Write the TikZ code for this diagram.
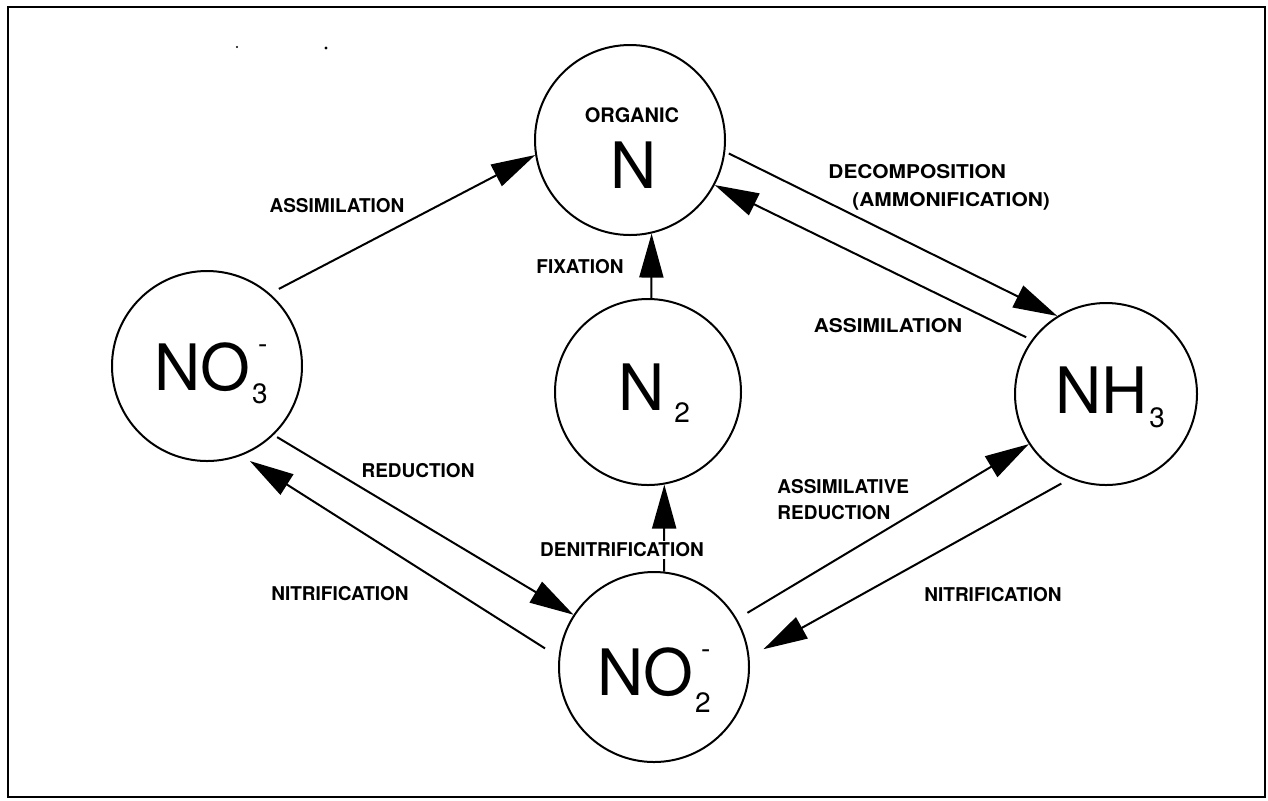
\documentclass[tikz,border=0pt]{standalone}
\usepackage{fontspec}
\setmainfont{TeX Gyre Heros}
\usetikzlibrary{arrows.meta}
\newcommand{\ionsc}[3]{\kern1pt\rlap{\kern3pt\raisebox{#1}{\fontsize{14}{14}\selectfont -}}\raisebox{#2}{\fontsize{14}{14}\selectfont #3}}
\newcommand{\wider}[1]{\scalebox{1.1}[1]{#1}}
\begin{document}
\begin{tikzpicture}[x=0.5pt,y=-0.5pt,
  pool/.style={draw, circle, line width=1pt, minimum size=#1, inner sep=0pt},
  flow/.style={line width=1pt, -{Triangle[length=22pt,width=12pt]}},
  lbl/.style={font=\fontsize{9.5}{13}\selectfont\bfseries, inner sep=1pt},
  big/.style={font=\fontsize{32}{32}\selectfont, inner sep=0pt, anchor=base}]
\useasboundingbox (0,0) rectangle (1268,800);
\draw[line width=1.3pt] (8,7) rectangle (1265,797);
\fill (237,47) circle (0.6pt);
\fill (326,48) circle (0.8pt);
% pools
\node[pool=95pt] (org) at (630,140) {};
\node[pool=93pt] (n2) at (648,392) {};
\node[pool=95pt] (no2) at (654,667) {};
\node[pool=95pt] (no3) at (207,366) {};
\node[pool=91pt] (nh3) at (1106,394) {};
% pool texts
\node[font=\fontsize{10}{10}\selectfont\bfseries, anchor=base, inner sep=0pt] (torg) at (632,122) {ORGANIC};
\node[big] (torgn) at (634,188) {N};
\node[big] (tn2) at (654,410) {N\kern5pt\raisebox{-6pt}{\fontsize{14}{14}\selectfont 2}};
\node[big] (tno3) at (211,390) {NO\ionsc{18.5pt}{-6.5pt}{3}};
\node[big] (tno2) at (654,695) {NO\ionsc{18.5pt}{-8.5pt}{2}};
\node[big] (tnh3) at (1110,413) {NH\kern1pt\raisebox{-7pt}{\fontsize{14}{14}\selectfont 3}};
% flows
\draw[flow, shorten <=5pt] (no3.49) -- (org.189);
\draw[flow, shorten <=2pt] (org.-7.5) -- (nh3.122);
\draw[flow, shorten <=3pt] (nh3.144.5) -- (org.-28.2);
\draw[flow] (n2.88) -- (org.-77);
\draw[flow] (no2.84) -- (n2.-80);
\draw[flow, shorten <=2pt] (no3.-46.2) -- (no2.147.3);
\draw[flow, shorten <=8pt, shorten >=5pt] (no2.174.9) -- (no3.-69.5);
\draw[flow, shorten <=6pt] (no2.30.1) -- (nh3.213.7);
\draw[flow, shorten <=5pt, shorten >=8pt] (nh3.247.8) -- (no2.6.7);
% labels
\node[lbl] (lassim1) at (337,206) {ASSIMILATION};
\node[lbl] (lfix) at (580,267) {FIXATION};
\node[lbl, anchor=west] (ldec) at (826,172) {\wider{DECOMPOSITION}};
\node[lbl, anchor=west] (lamm) at (850,201) {\wider{(AMMONIFICATION)}};
\node[lbl] (lassim2) at (888,326) {\wider{ASSIMILATION}};
\node[lbl] (lred) at (418,471) {REDUCTION};
\node[lbl, fill=white] (lden) at (622,550) {DENITRIFICATION};
\node[lbl] (lnit1) at (340,594) {NITRIFICATION};
\node[lbl, anchor=west, align=left] (lasr) at (775,500) {ASSIMILATIVE\\REDUCTION};
\node[lbl] (lnit2) at (993,595) {NITRIFICATION};
\end{tikzpicture}
\end{document}
